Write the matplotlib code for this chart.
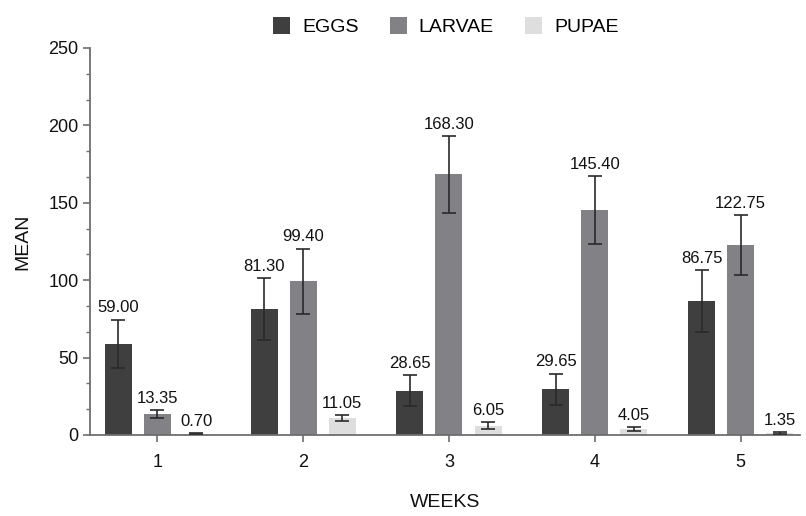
import numpy as np
import matplotlib.pyplot as plt
from matplotlib.ticker import MultipleLocator

plt.rcParams['font.family'] = ['Liberation Sans', 'DejaVu Sans']

weeks = [1, 2, 3, 4, 5]
eggs = [59.00, 81.30, 28.65, 29.65, 86.75]
larvae = [13.35, 99.40, 168.30, 145.40, 122.75]
pupae = [0.70, 11.05, 6.05, 4.05, 1.35]
eggs_err = [15.5, 20.0, 10.0, 10.0, 20.0]
larvae_err = [2.5, 21.0, 25.0, 22.0, 19.5]
pupae_err = [0.3, 1.8, 2.3, 1.3, 0.5]

names = ['EGGS', 'LARVAE', 'PUPAE']
colors = ['#3f3f3f', '#828286', '#dedede']

fig = plt.figure(figsize=(8.06, 5.16), dpi=100)
ax = fig.add_axes([0.112, 0.157, 0.881, 0.75])

x = np.array(weeks)
w = 0.185
off = 0.268
axis_col = '#6e6e6e'
for k, (vals, errs) in enumerate([(eggs, eggs_err), (larvae, larvae_err), (pupae, pupae_err)]):
    pos = x + (k - 1) * off
    ax.bar(pos, vals, w, color=colors[k], label=names[k], zorder=2)
    ax.errorbar(pos, vals, yerr=errs, fmt='none', ecolor='#2a2a2a',
                elinewidth=1.2, capsize=5, capthick=1.2, zorder=3)
    for p, v, e in zip(pos, vals, errs):
        ax.annotate('%.2f' % v, (p, v + e), xytext=(0, 3), textcoords='offset points',
                    ha='center', va='bottom', fontsize=12, color='#111111')

ax.set_xlim(0.54, 5.41)
ax.set_ylim(0, 250)
ax.set_xticks(weeks)
ax.yaxis.set_major_locator(MultipleLocator(50))
ax.yaxis.set_minor_locator(MultipleLocator(50 / 3))
for s in ['top', 'right']:
    ax.spines[s].set_visible(False)
for s in ['left', 'bottom']:
    ax.spines[s].set_color(axis_col)
    ax.spines[s].set_linewidth(1.3)
ax.tick_params(axis='both', which='major', colors=axis_col, labelcolor='#111111',
               labelsize=13, length=5, width=1.2)
ax.tick_params(axis='y', which='minor', colors=axis_col, length=3, width=1.0)
ax.tick_params(axis='x', pad=9)

ax.set_xlabel('WEEKS', fontsize=14, labelpad=16, color='#111111')
ax.set_ylabel('MEAN', fontsize=14, labelpad=12, color='#111111')

fig.legend(loc='upper center', bbox_to_anchor=(0.553, 1.0), ncol=3, frameon=False,
           fontsize=14, handlelength=0.9, handleheight=0.9, columnspacing=1.6,
           handletextpad=0.6)

fig.savefig('out.png', dpi=100)
